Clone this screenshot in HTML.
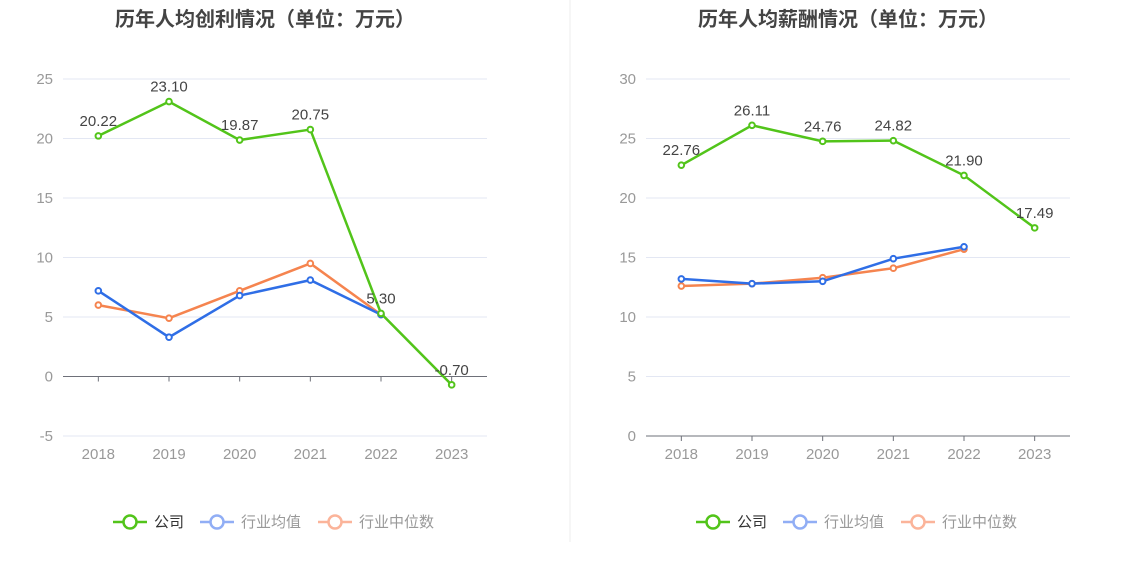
<!DOCTYPE html>
<html><head><meta charset="utf-8"><style>
body{margin:0;background:#fff;font-family:"Liberation Sans","Noto Sans CJK SC",sans-serif;}
svg text{font-family:"Liberation Sans","Noto Sans CJK SC",sans-serif;}
</style></head><body>
<svg id="s" width="1134" height="582" xmlns="http://www.w3.org/2000/svg">
<line x1="570" y1="0" x2="570" y2="542" stroke="#eee"/>
</svg>
<script>
const years=["2018","2019","2020","2021","2022","2023"];
const profitCompany=[20.22,23.10,19.87,20.75,5.30,-0.70];
const profitAvg=[7.2,3.3,6.8,8.1,5.2,null];
const profitMedian=[6.0,4.9,7.2,9.5,5.2,null];
const profitTicks=[-5,0,5,10,15,20,25];
const salaryCompany=[22.76,26.11,24.76,24.82,21.90,17.49];
const salaryAvg=[13.2,12.8,13.0,14.9,15.9,null];
const salaryMedian=[12.6,12.8,13.3,14.1,15.7,null];
const salaryTicks=[0,5,10,15,20,25,30];
const NS="http://www.w3.org/2000/svg";
const svg=document.getElementById('s');
function mk(t,a,p){const e=document.createElementNS(NS,t);for(const k in a)e.setAttribute(k,a[k]);(p||svg).appendChild(e);return e;}
function chart(o){
  const g=mk('g',{});
  
  
  const left=o.left,right=o.left+424,bw=(right-left)/years.length;
  const min=o.ticks[0],max=o.ticks[o.ticks.length-1];
  const y=v=>436-(v-min)/(max-min)*357;
  const x=i=>left+bw*(i+0.5);
  const t=mk('text',{x:(left+right)/2-10,y:26,'text-anchor':'middle','font-size':20,'font-weight':'bold',fill:'#444'},g);t.textContent=o.title;
  
  o.ticks.forEach(v=>{
    if(v!==0||min===0){const l=mk('line',{x1:left,x2:right,y1:y(v),y2:y(v),stroke:'#e3e7f3'},g);
    }
    const tx=mk('text',{x:left-10,y:y(v)+5,'text-anchor':'end','font-size':15,fill:'#999'},g);tx.textContent=v;
    
  });
  const ax=mk('line',{x1:left,x2:right,y1:y(0),y2:y(0),stroke:'#6e7079'},g);
  
  years.forEach((yr,i)=>{
    const tk=mk('line',{x1:x(i),x2:x(i),y1:y(0),y2:y(0)+5,stroke:'#6e7079'},g);
    
    const tx=mk('text',{x:x(i),y:459,'text-anchor':'middle','font-size':15,fill:'#999'},g);tx.textContent=yr;
    
  });
  const series=[[o.median,'#f5844f','median'],[o.avg,'#2f6ee6','average'],[o.company,'#52c41a','company']];
  series.forEach(([d,c,n])=>{
    let pts=[];d.forEach((v,i)=>{if(v!==null)pts.push(x(i)+','+y(v));});
    const pl=mk('polyline',{points:pts.join(' '),fill:'none',stroke:c,'stroke-width':2.5},g);
    
    d.forEach((v,i)=>{if(v===null)return;
      const ci=mk('circle',{cx:x(i),cy:y(v),r:2.8,fill:'#fff',stroke:c,'stroke-width':2},g);
      
      if(n==='company'){const lb=mk('text',{x:x(i),y:y(v)-10,'text-anchor':'middle','font-size':15,fill:'#444'},g);lb.textContent=v.toFixed(2);
        }
    });
  });
  const lx=o.left+50;
  const leg=[['公司','#52c41a','#333',0],['行业均值','#91aef5','#999',87],['行业中位数','#fbb49a','#999',205]];
  leg.forEach(([name,c,tc,dx])=>{
    const lg=mk('g',{},g);
    
    mk('line',{x1:lx+dx,x2:lx+dx+34,y1:522,y2:522,stroke:c,'stroke-width':2.5},lg);
    mk('circle',{cx:lx+dx+17,cy:522,r:6.5,fill:'#fff',stroke:c,'stroke-width':2.5},lg);
    const tx=mk('text',{x:lx+dx+41,y:527,'font-size':15,fill:tc},lg);tx.textContent=name;
  });
}
chart({name:'profit-chart',left:63,title:'历年人均创利情况（单位：万元）',ticks:profitTicks,company:profitCompany,avg:profitAvg,median:profitMedian});
chart({name:'salary-chart',left:646,title:'历年人均薪酬情况（单位：万元）',ticks:salaryTicks,company:salaryCompany,avg:salaryAvg,median:salaryMedian});
</script>
</body></html>
